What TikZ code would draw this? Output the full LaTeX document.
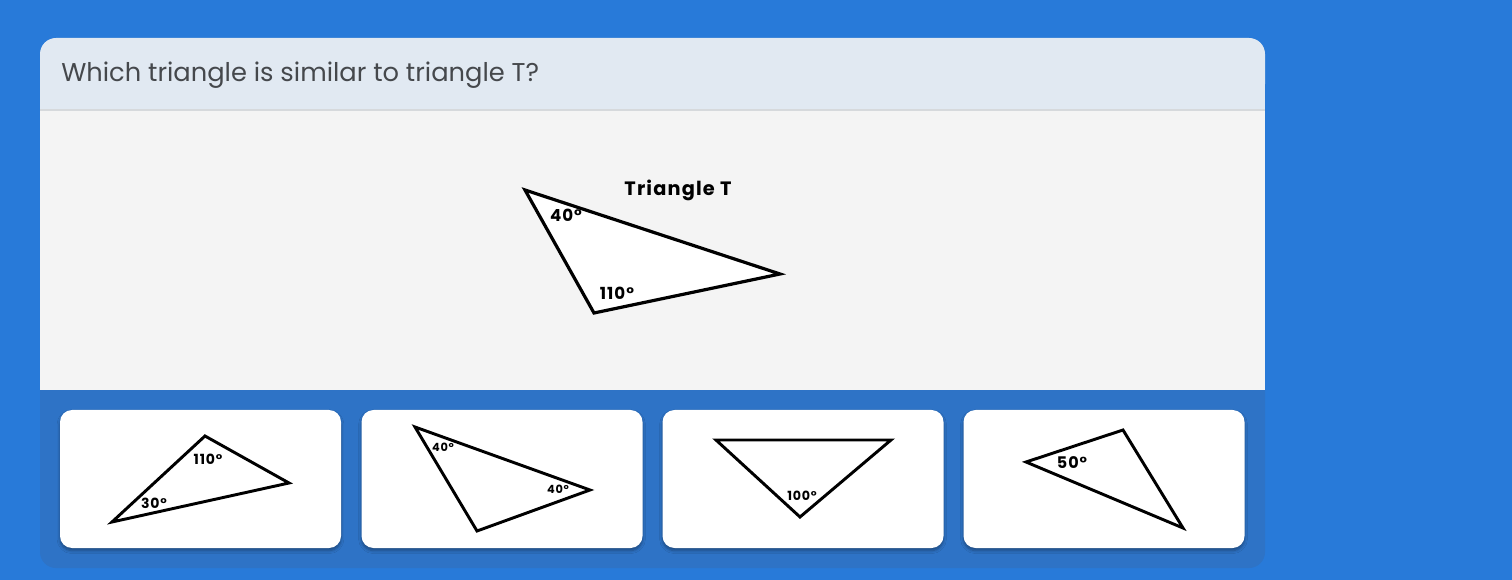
\documentclass[tikz,border=0pt]{standalone}
\usepackage{fontspec}
\setmainfont{Poppins}
\newfontfamily\labf[LetterSpace=6]{Poppins}
\usetikzlibrary{shadows.blur}
\definecolor{bgblue}{HTML}{287AD9}
\definecolor{panelblue}{HTML}{2E73C6}
\definecolor{headbg}{HTML}{E1E9F2}
\definecolor{bodybg}{HTML}{F4F4F4}
\definecolor{sepline}{HTML}{D6D9DC}
\definecolor{qtext}{HTML}{45484C}
\tikzset{
  tri/.style={draw=black, fill=white, line width=2.2pt, line join=miter},
  ang/.style={font=\labf\fontsize{10.5}{10.5}\selectfont\bfseries, inner sep=0pt, text=black},
  angbig/.style={font=\labf\fontsize{12.5}{12.5}\selectfont\bfseries, inner sep=0pt, text=black},
  card/.style={fill=white, rounded corners=9pt, blur shadow={shadow xshift=0pt, shadow yshift=-2pt, shadow blur steps=6, shadow opacity=35}},
}
\begin{document}
\begin{tikzpicture}[x=0.75pt, y=-0.75pt]
\useasboundingbox (0,0) rectangle (1512,580);
\fill[bgblue] (0,0) rectangle (1512,580);
% panel
\fill[panelblue, rounded corners=12pt] (40,38) rectangle (1265,568);
\fill[headbg, rounded corners=12pt] (40,38) rectangle (1265,100);
\fill[headbg] (40,80) rectangle (1265,110);
\fill[bodybg] (40,110) rectangle (1265,390);
\draw[sepline, line width=1.2pt] (40,110) -- (1265,110);
\node[anchor=base west, inner sep=0pt, text=qtext, font=\fontsize{19.3}{19.3}\selectfont] (q) at (61,82) {Which triangle is similar to triangle T?};
% main triangle
\coordinate (Ta) at (525,190);
\coordinate (Tb) at (780,274);
\coordinate (Tc) at (594,313);
\draw[tri, line width=2.4pt] (Ta) -- (Tb) -- (Tc) -- cycle;
\node[angbig] (t40) at (566,215) {40°};
\node[angbig] (t110) at (617,293) {110°};
\node[angbig, font=\labf\fontsize{14.5}{14.5}\selectfont\bfseries] (tt) at (678,190) {Triangle T};
% cards
\node[card, minimum width=281*0.75pt, minimum height=138*0.75pt, inner sep=0pt] (c1) at (200.5,479) {};
\node[card, minimum width=281*0.75pt, minimum height=138*0.75pt, inner sep=0pt] (c2) at (502,479) {};
\node[card, minimum width=281*0.75pt, minimum height=138*0.75pt, inner sep=0pt] (c3) at (803,479) {};
\node[card, minimum width=281*0.75pt, minimum height=138*0.75pt, inner sep=0pt] (c4) at (1104,479) {};
% card 1
\coordinate (a1) at (112,522);
\coordinate (a2) at (205,436);
\coordinate (a3) at (289,483);
\draw[tri] (a1) -- (a2) -- (a3) -- cycle;
\node[ang] (l11) at (208,459) {110°};
\node[ang] (l12) at (154,503) {30°};
% card 2
\coordinate (b1) at (415,427);
\coordinate (b2) at (590,490);
\coordinate (b3) at (477,531);
\draw[tri] (b1) -- (b2) -- (b3) -- cycle;
\node[ang, font=\labf\fontsize{8.5}{8.5}\selectfont\bfseries] (l21) at (443,447) {40°};
\node[ang, font=\labf\fontsize{8.5}{8.5}\selectfont\bfseries] (l22) at (558,489) {40°};
% card 3
\coordinate (d1) at (716,440);
\coordinate (d2) at (891,440);
\coordinate (d3) at (800,517);
\draw[tri] (d1) -- (d2) -- (d3) -- cycle;
\node[ang, font=\labf\fontsize{9.5}{9.5}\selectfont\bfseries] (l31) at (802,496) {100°};
% card 4
\coordinate (e1) at (1026,462);
\coordinate (e2) at (1123,430);
\coordinate (e3) at (1183,528);
\draw[tri] (e1) -- (e2) -- (e3) -- cycle;
\node[ang, font=\labf\fontsize{12}{12}\selectfont\bfseries] (l41) at (1072,463) {50°};
\end{tikzpicture}
\end{document}
